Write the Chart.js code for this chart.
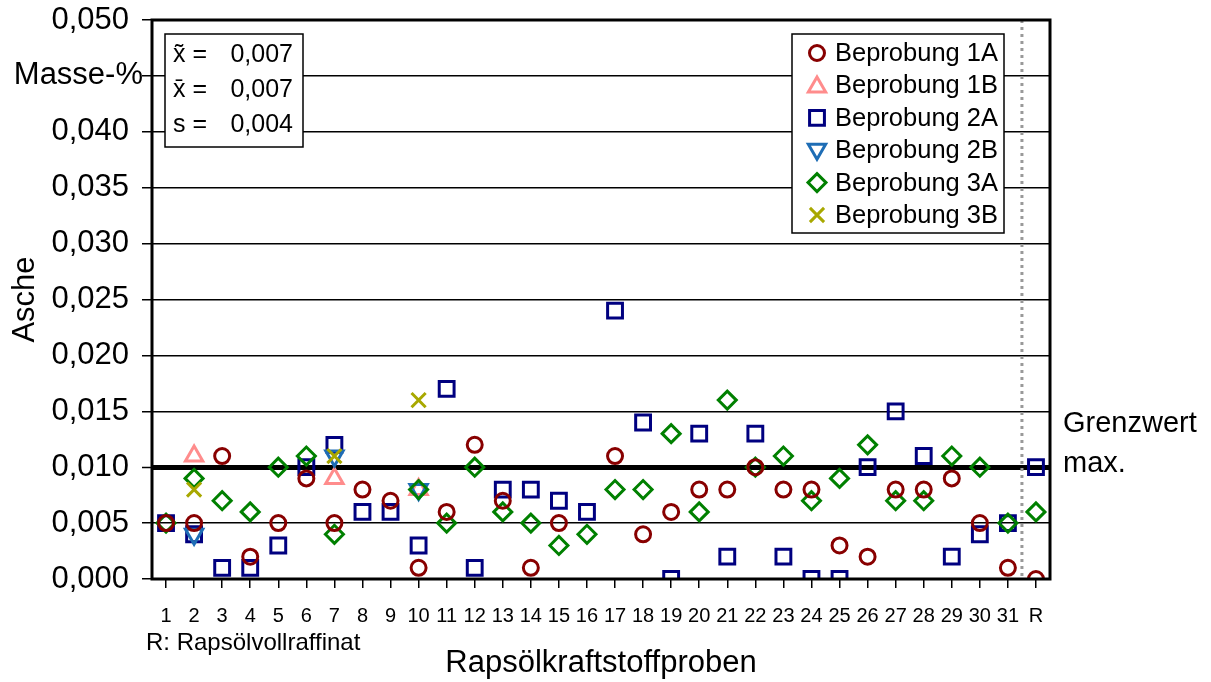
<!DOCTYPE html>
<html>
<head>
<meta charset="utf-8">
<script src="https://cdn.jsdelivr.net/npm/chart.js@4/dist/chart.umd.min.js"></script>
<style>
html,body{margin:0;padding:0;background:#fff;}
#wrap{position:relative;width:1211px;height:682px;}
</style>
</head>
<body>
<div id="wrap"><canvas id="c" width="1211" height="682"></canvas></div>
<script>
// ---- data (Masse-%) ----
const categories = ['1','2','3','4','5','6','7','8','9','10','11','12','13','14','15','16','17','18','19','20','21','22','23','24','25','26','27','28','29','30','31','R'];
const yTicks = [0,0.005,0.010,0.015,0.020,0.025,0.030,0.035,0.040,0.045,0.050];
const grenzwert = 0.010;
const seriesNames = ['Beprobung 1A','Beprobung 1B','Beprobung 2A','Beprobung 2B','Beprobung 3A','Beprobung 3B'];
const b1A = [0.005,0.005,0.011,0.002,0.005,0.009,0.005,0.008,0.007,0.001,0.006,0.012,0.007,0.001,0.005,null,0.011,0.004,0.006,0.008,0.008,0.010,0.008,0.008,0.003,0.002,0.008,0.008,0.009,0.005,0.001,0.000];
const b1B = [null,0.011,null,null,null,null,0.009,null,null,0.008,null,null,null,null,null,null,null,null,null,null,null,null,null,null,null,null,null,null,null,null,null,null];
const b2A = [0.005,0.004,0.001,0.001,0.003,0.010,0.012,0.006,0.006,0.003,0.017,0.001,0.008,0.008,0.007,0.006,0.024,0.014,0.000,0.013,0.002,0.013,0.002,0.000,0.000,0.010,0.015,0.011,0.002,0.004,0.005,0.010];
const b2B = [null,0.004,null,null,null,null,0.011,null,null,0.008,null,null,null,null,null,null,null,null,null,null,null,null,null,null,null,null,null,null,null,null,null,null];
const b3A = [0.005,0.009,0.007,0.006,0.010,0.011,0.004,null,null,0.008,0.005,0.010,0.006,0.005,0.003,0.004,0.008,0.008,0.013,0.006,0.016,0.010,0.011,0.007,0.009,0.012,0.007,0.007,0.011,0.010,0.005,0.006];
const b3B = [null,0.008,null,null,null,null,0.011,null,null,0.016,null,null,null,null,null,null,null,null,null,null,null,null,null,null,null,null,null,null,null,null,null,null];
const stats = [['x\u0303 =','0,007'],['x\u0304 =','0,007'],['s =','0,004']];

const FONT = "'Liberation Sans', Arial, sans-serif";
const colors = ['#880000','#FF8C8C','#000080','#1E6DB5','#008000','#A8A800'];
const styles = ['circle','triangle','rect','triangle','rectRot','crossRot'];
const rotations = [0,0,0,180,0,0];
const radii = [7.5,10,10.5,10,9,10];
const orders = [1,5,6,4,3,2];
const allData = [b1A,b1B,b2A,b2B,b3A,b3B];

const datasets = allData.map((d,i)=>({
  label: seriesNames[i],
  data: d,
  showLine: false,
  borderColor: colors[i],
  backgroundColor: 'rgba(0,0,0,0)',
  pointStyle: styles[i],
  pointRotation: rotations[i],
  pointRadius: radii[i],
  pointHoverRadius: radii[i],
  pointBorderWidth: 3,
  pointBackgroundColor: 'rgba(0,0,0,0)',
  pointBorderColor: colors[i],
  order: orders[i]
}));

function marker(ctx, style, x, y, r, color, rot){
  ctx.save();
  ctx.strokeStyle = color; ctx.lineWidth = 3;
  ctx.beginPath();
  if (style==='circle'){ ctx.arc(x,y,r,0,Math.PI*2); }
  else if (style==='rect'){ const s=r*Math.SQRT1_2; ctx.rect(x-s,y-s,2*s,2*s); }
  else if (style==='rectRot'){ ctx.moveTo(x,y-r);ctx.lineTo(x+r,y);ctx.lineTo(x,y+r);ctx.lineTo(x-r,y);ctx.closePath(); }
  else if (style==='triangle'){
    let a = rot*Math.PI/180;
    for (let k=0;k<3;k++){ const px=x+Math.sin(a)*r, py=y-Math.cos(a)*r; if(k===0)ctx.moveTo(px,py); else ctx.lineTo(px,py); a+=2*Math.PI/3; }
    ctx.closePath();
  }
  else if (style==='crossRot'){ const s=r*Math.SQRT1_2; ctx.moveTo(x-s,y-s);ctx.lineTo(x+s,y+s);ctx.moveTo(x+s,y-s);ctx.lineTo(x-s,y+s); }
  ctx.stroke();
  ctx.restore();
}

const decor = {
  id: 'decor',
  beforeDatasetsDraw(chart){
    const {ctx, chartArea:a, scales:{x}} = chart;
    const xs = (x.getPixelForValue(30)+x.getPixelForValue(31))/2;
    ctx.save();
    ctx.strokeStyle = '#999999'; ctx.lineWidth = 3; ctx.setLineDash([3,4]);
    ctx.beginPath(); ctx.moveTo(xs,a.top); ctx.lineTo(xs,a.bottom); ctx.stroke();
    ctx.restore();
  },
  afterDraw(chart){
    const {ctx, chartArea:a, scales:{y}} = chart;
    ctx.save();
    ctx.strokeStyle = '#000'; ctx.lineWidth = 3;
    ctx.strokeRect(a.left, a.top, a.right-a.left, a.bottom-a.top);
    ctx.fillStyle = '#000';
    ctx.font = '31px ' + FONT;
    ctx.textAlign = 'right'; ctx.textBaseline = 'middle';
    ctx.fillText('Masse-%', a.left-9, y.getPixelForValue(0.045));
    ctx.textAlign = 'left'; ctx.textBaseline = 'alphabetic';
    ctx.font = '29px ' + FONT;
    ctx.fillText('Grenzwert', a.right+13, 432);
    ctx.fillText('max.', a.right+13, 472);
    ctx.font = '24px ' + FONT;
    ctx.fillText('R: Rapsölvollraffinat', 146, 650);
    // stats box
    ctx.fillStyle = '#fff';
    ctx.fillRect(165,34,138,113);
    ctx.strokeStyle = '#000'; ctx.lineWidth = 1.5;
    ctx.strokeRect(165,34,138,113);
    ctx.fillStyle = '#000';
    ctx.font = '25px ' + FONT;
    ctx.textBaseline = 'middle';
    stats.forEach((s,i)=>{
      const yy = 55 + i*35;
      ctx.textAlign = 'left'; ctx.fillText(s[0], 173, yy);
      ctx.textAlign = 'right'; ctx.fillText(s[1], 293, yy);
    });
    // legend box
    ctx.fillStyle = '#fff';
    ctx.fillRect(792,34,212,199);
    ctx.strokeStyle = '#000'; ctx.lineWidth = 1.5;
    ctx.strokeRect(792,34,212,199);
    ctx.font = '25.5px ' + FONT;
    ctx.textAlign = 'left'; ctx.textBaseline = 'middle';
    seriesNames.forEach((n,i)=>{
      const yy = 53 + i*32.4;
      const lr = [7.5,10,10.5,10,9,10][i];
      marker(ctx, styles[i], 817, yy + (i===1?1.5:(i===3?-1:0)), lr, colors[i], rotations[i]);
      ctx.fillStyle = '#000';
      ctx.fillText(n, 835, yy+1);
    });
    ctx.restore();
  }
};

new Chart(document.getElementById('c'), {
  type: 'line',
  data: { labels: categories, datasets },
  options: {
    responsive: false,
    animation: false,
    events: [],
    layout: { padding: { left: 0, right: 161, top: 20, bottom: 0 } },
    plugins: { legend: { display: false }, tooltip: { enabled: false } },
    scales: {
      x: {
        type: 'category',
        offset: true,
        grid: { display: true, drawOnChartArea: false, offset: false, tickLength: 9, color: '#000', lineWidth: 1.5 },
        border: { display: false },
        ticks: { autoSkip: false, maxRotation: 0, minRotation: 0, padding: 16, color: '#000', font: { family: FONT, size: 20 } },
        title: { display: true, text: 'Rapsölkraftstoffproben', color: '#000', font: { family: FONT, size: 31 }, padding: { top: 0, bottom: 0 } },
        afterFit(s){ s.height = 103; s.paddingLeft = 0; s.paddingRight = 0; }
      },
      y: {
        min: 0, max: 0.05,
        afterBuildTicks(s){ s.ticks = yTicks.map(v=>({value:v})); },
        grid: {
          color: '#000',
          lineWidth: c => (Math.abs(c.tick.value - grenzwert) < 1e-9 ? 5 : 1.5),
          tickLength: 10, tickWidth: 1.5, tickColor: '#000'
        },
        border: { display: false },
        ticks: {
          padding: 13, color: '#000', font: { family: FONT, size: 31 },
          callback: v => (Math.abs(v-0.045) < 1e-9 ? '' : v.toFixed(3).replace('.', ','))
        },
        title: { display: true, text: 'Asche', color: '#000', font: { family: FONT, size: 31 }, padding: { top: 7, bottom: 0 } },
        afterFit(s){ s.width = 152; s.paddingTop = 0; s.paddingBottom = 0; }
      }
    }
  },
  plugins: [decor]
});
</script>
</body>
</html>
